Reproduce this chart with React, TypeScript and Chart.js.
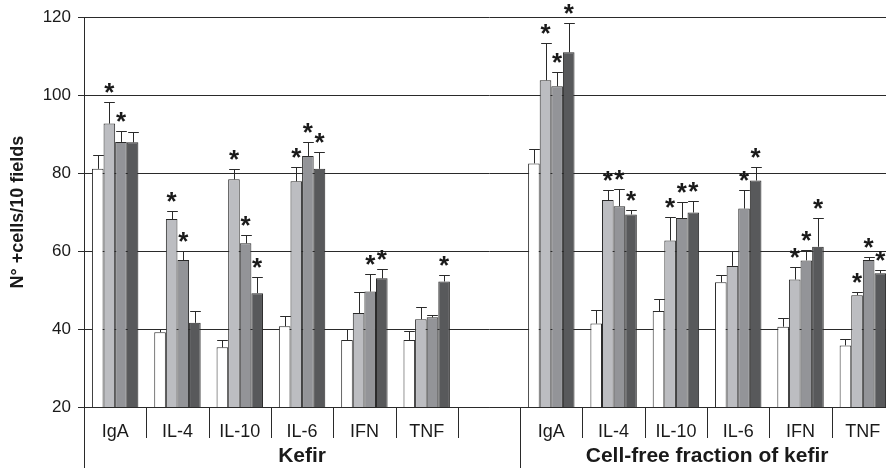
import { useEffect, useRef } from 'react';
import { Chart, registerables } from 'chart.js';

Chart.register(...registerables);

// ---- Data ----
const categories = ['IgA', 'IL-4', 'IL-10', 'IL-6', 'IFN', 'TNF', '', 'IgA', 'IL-4', 'IL-10', 'IL-6', 'IFN', 'TNF'];
const groupLabels = ['Kefir', 'Cell-free fraction of kefir'];
const groupSpans = [[0, 7], [7, 13]]; // category index ranges [start, end)
const yTickValues = [20, 40, 60, 80, 100, 120];
const yTitle = 'N° +cells/10 fields';

const series1 = [81.1, 39.2, 35.3, 40.7, 37.2, 37.2, null, 82.5, 41.4, 44.6, 52.0, 40.6, 35.8];
const series2 = [92.7, 68.2, 78.4, 77.9, 44.1, 42.5, null, 103.8, 73.1, 62.7, 56.2, 52.7, 48.7];
const series3 = [88.0, 57.7, 62.0, 84.4, 49.6, 43.0, null, 102.3, 71.5, 68.5, 70.9, 57.6, 57.7];
const series4 = [87.9, 41.6, 49.2, 81.1, 53.0, 52.2, null, 111.0, 69.4, 69.9, 78.1, 61.1, 54.3];

const error1 = [3.6, 0.8, 1.9, 2.6, 2.8, 2.2, null, 3.7, 3.5, 3.2, 1.8, 2.3, 1.7];
const error2 = [5.6, 2.1, 2.7, 3.6, 5.5, 3.1, null, 9.6, 2.5, 6.1, 3.9, 3.3, 0.8];
const error3 = [2.8, 2.2, 2.2, 3.6, 4.6, 0.7, null, 3.7, 4.4, 4.0, 4.7, 2.7, 0.8];
const error4 = [2.7, 3.1, 4.2, 4.3, 2.5, 1.7, null, 7.5, 1.1, 3.0, 3.4, 7.5, 0.8];

const signif1 = [0, 0, 0, 0, 0, 0, 0, 0, 0, 0, 0, 0, 0];
const signif2 = [1, 1, 1, 1, 0, 0, 0, 1, 1, 1, 0, 1, 1];
const signif3 = [1, 1, 1, 1, 1, 0, 0, 1, 1, 1, 1, 1, 1];
const signif4 = [0, 0, 1, 1, 1, 1, 0, 1, 1, 1, 1, 1, 1];

const seriesNames = ['Series 1', 'Series 2', 'Series 3', 'Series 4'];
const seriesColors = ['#ffffff', '#bcbdc1', '#939498', '#58595b'];

const allValues = [series1, series2, series3, series4];
const allErrors = [error1, error2, error3, error4];
const allSignif = [signif1, signif2, signif3, signif4];

const FONT = '"Liberation Sans", Arial, Helvetica, sans-serif';
const INK = '#1a1a1a';
const LINE = '#2a2a2a';

const errorBarPlugin = {
  id: 'errorBars',
  afterDatasetsDraw(chart: any) {
    const { ctx } = chart;
    const yScale = chart.scales.y;
    ctx.save();
    ctx.strokeStyle = LINE;
    ctx.lineWidth = 1;
    ctx.fillStyle = INK;
    ctx.font = `bold 26px ${FONT}`;
    ctx.textAlign = 'center';
    ctx.textBaseline = 'alphabetic';
    const m = ctx.measureText('*');
    const A = m.actualBoundingBoxAscent;
    const D = m.actualBoundingBoxDescent;
    chart.data.datasets.forEach((ds: any, di: number) => {
      const meta = chart.getDatasetMeta(di);
      const errs = allErrors[di];
      const stars = allSignif[di];
      meta.data.forEach((bar: any, i: number) => {
        const v = ds.data[i];
        if (v == null) return;
        const e = errs[i] ?? 0;
        const { x, y, width } = bar.getProps(['x', 'y', 'width'], true);
        const capY = Math.round(yScale.getPixelForValue(v + e)) + 0.5;
        const cx = Math.round(x) + 0.5;
        const half = width * 0.46;
        ctx.beginPath();
        ctx.moveTo(cx, y);
        ctx.lineTo(cx, capY);
        ctx.moveTo(cx - half, capY);
        ctx.lineTo(cx + half, capY);
        ctx.stroke();
        if (stars[i]) {
          const center = capY - 15;
          const baseline = center + (A - D) / 2;
          ctx.fillText('*', x, baseline);
        }
      });
    });
    ctx.restore();
  },
};

const axisDecorPlugin = {
  id: 'axisDecor',
  afterDraw(chart: any) {
    const { ctx, chartArea } = chart;
    const xScale = chart.scales.x;
    const n = categories.length;
    const w = xScale.width / n;
    const bottom = chartArea.bottom;
    const H = chart.height;
    const boundary = (i: number) => xScale.getPixelForValue(0) - w / 2 + i * w;
    const groupEdges = new Set<number>();
    groupSpans.forEach(([s, e]) => { groupEdges.add(s); groupEdges.add(e); });
    ctx.save();
    ctx.strokeStyle = LINE;
    ctx.lineWidth = 1;
    ctx.beginPath();
    for (let i = 0; i <= n; i++) {
      const px = Math.round(boundary(i)) + 0.5;
      const end = groupEdges.has(i) ? H : bottom + 31;
      ctx.moveTo(px, bottom);
      ctx.lineTo(px, end);
    }
    ctx.stroke();
    ctx.fillStyle = INK;
    ctx.font = `bold 21px ${FONT}`;
    ctx.textAlign = 'center';
    ctx.textBaseline = 'middle';
    groupSpans.forEach(([s, e], gi) => {
      const cxg = (boundary(s) + boundary(e)) / 2;
      ctx.fillText(groupLabels[gi], cxg, bottom + 49);
    });
    ctx.restore();
  },
};

export default function App() {
  const ref = useRef<HTMLCanvasElement | null>(null);

  useEffect(() => {
    if (!ref.current) return;
    const chart = new Chart(ref.current, {
      type: 'bar',
      data: {
        labels: categories,
        datasets: allValues.map((vals, i) => ({
          label: seriesNames[i],
          data: vals,
          backgroundColor: seriesColors[i],
          borderColor: LINE,
          borderWidth: 1,
          categoryPercentage: 0.745,
          barPercentage: 1,
        })),
      },
      options: {
        responsive: false,
        animation: false,
        devicePixelRatio: 1,
        layout: { padding: { left: 0, right: 0, top: 17, bottom: 0 } },
        plugins: {
          legend: { display: false },
          tooltip: { enabled: false },
        },
        scales: {
          x: {
            type: 'category',
            offset: true,
            grid: { display: false },
            border: { display: true, color: LINE, width: 1 },
            ticks: {
              color: INK,
              font: { family: FONT, size: 18 },
              autoSkip: false,
              maxRotation: 0,
              minRotation: 0,
              padding: 6,
            },
            afterFit: (s: any) => { s.height = 61; },
          },
          y: {
            min: 20,
            max: 120,
            afterBuildTicks: (s: any) => { s.ticks = yTickValues.map((v) => ({ value: v })); },
            grid: { color: LINE, lineWidth: 1, tickLength: 6, drawTicks: true },
            border: { display: true, color: LINE, width: 1 },
            ticks: {
              color: INK,
              font: { family: FONT, size: 17 },
              padding: 7,
            },
            title: {
              display: true,
              text: yTitle,
              color: INK,
              font: { family: FONT, size: 18, weight: 'bold' },
              padding: { top: 7, bottom: 0 },
            },
            afterFit: (s: any) => { s.width = 84; },
          },
        },
      },
      plugins: [errorBarPlugin, axisDecorPlugin],
    });
    return () => chart.destroy();
  }, []);

  return (
    <div style={{ position: 'fixed', left: 0, top: 0, width: 886, height: 468, overflow: 'hidden', background: '#fff' }}>
      <canvas ref={ref} width={894} height={468} style={{ display: 'block' }} />
    </div>
  );
}
